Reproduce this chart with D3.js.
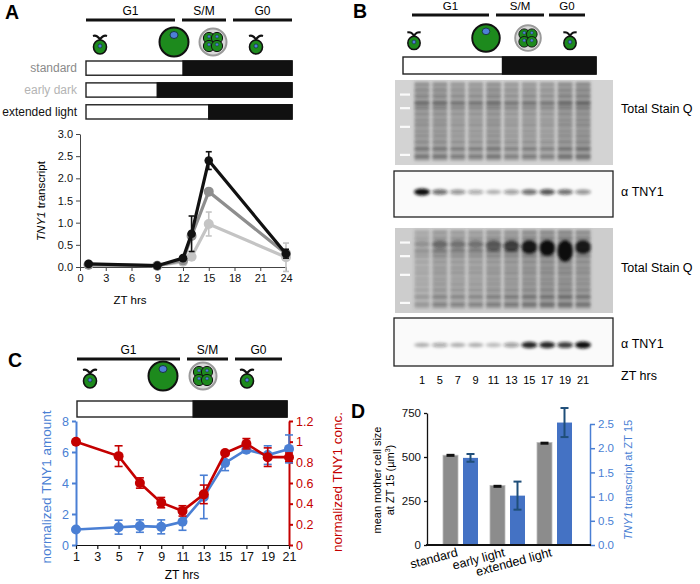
<!DOCTYPE html>
<html>
<head>
<meta charset="utf-8">
<script src="https://cdn.jsdelivr.net/npm/d3@7"></script>
<style>
  body { margin: 0; background: #fff; }
  svg { font-family: "Liberation Sans", Arial, sans-serif; }
  .tick text { font-family: "Liberation Sans", Arial, sans-serif; }
</style>
</head>
<body>
<svg id="fig" width="700" height="584"></svg>
<script>
// ---------- data ----------
const phaseNames = ["G1", "S/M", "G0"];

// panel A: TNY1 transcript over ZT for the three light regimes
const regimes = ["standard", "early dark", "extended light"];
const regimeDarkAt = [12, 9, 15];
const ztA = [1, 9, 12, 13, 15, 24];
const standardA = [0.05, 0.03, 0.15, 0.70, 1.70, 0.30];
const standardErrA = [0.01, 0.01, 0.03, 0.05, 0.05, 0.05];
const earlyDarkA = [0.05, 0.03, 0.12, 0.23, 0.97, 0.22];
const earlyDarkErrA = [0.01, 0.01, 0.03, 0.05, 0.27, 0.32];
const extendedA = [0.07, 0.03, 0.20, 0.75, 2.40, 0.30];
const extendedErrA = [0.01, 0.01, 0.03, 0.40, 0.20, 0.10];
const yTicksA = [0, 0.5, 1, 1.5, 2, 2.5, 3];
const xTicksA = [0, 3, 6, 9, 12, 15, 18, 21, 24];

// panel B: blot lanes
const laneZT = [1, 5, 7, 9, 11, 13, 15, 17, 19, 21];
const stain1Lanes = [1.0, 1.0, 0.9, 0.9, 1.0, 0.85, 0.9, 0.85, 1.05, 1.1];
const tny1TopBands = [1.0, 0.6, 0.45, 0.35, 0.3, 0.4, 0.6, 0.7, 0.6, 0.45];
const stain2Lanes = [0.55, 0.8, 0.75, 0.75, 0.85, 0.9, 1.0, 1.05, 1.1, 1.0];
const stain2Blobs = [0.1, 0.3, 0.25, 0.25, 0.45, 0.6, 0.9, 1.0, 1.0, 0.9];
const stain2BlobH = [4, 5, 5, 5, 7, 8, 10, 12, 18, 10];
const tny1BottomBands = [0.3, 0.35, 0.3, 0.3, 0.25, 0.4, 0.9, 0.9, 0.8, 1.0];
const stainRows = [[0.05, 0.35], [0.12, 0.45], [0.19, 0.55], [0.27, 1.0], [0.33, 0.6], [0.4, 0.4],
                   [0.47, 0.35], [0.53, 0.4], [0.6, 0.3], [0.66, 0.35], [0.73, 0.45],
                   [0.81, 0.8], [0.9, 0.85]];
const markerRows = [0.17, 0.33, 0.55, 0.88];

// panel C: TNY1 amount and concentration
const ztC = [1, 5, 7, 9, 11, 13, 15, 17, 19, 21];
const amountC = [1.0, 1.15, 1.22, 1.17, 1.5, 3.1, 5.3, 6.15, 5.8, 6.2];
const amountErrC = [0, 0.45, 0.4, 0.45, 0.55, 1.4, 0.5, 0.15, 0.6, 0.9];
const concC = [1.0, 0.86, 0.6, 0.41, 0.33, 0.49, 0.89, 0.98, 0.85, 0.85];
const concErrC = [0, 0.1, 0.05, 0.05, 0.05, 0.09, 0.02, 0.05, 0.09, 0.04];
const xTicksC = [1, 3, 5, 7, 9, 11, 13, 15, 17, 19, 21];
const yTicksCL = [0, 2, 4, 6, 8];
const yTicksCR = [0, 0.2, 0.4, 0.6, 0.8, 1, 1.2];
const darkAtC = 12;

// panel D: cell size and transcript at ZT 15
const groupsD = ["standard", "early light", "extended light"];
const sizeD = [510, 338, 582];
const sizeErrD = [8, 4, 5];
const transcriptD = [1.8, 1.02, 2.53];
const transcriptErrD = [0.08, 0.29, 0.3];
const yTicksDL = [0, 250, 500, 750];
const yTicksDR = [0, 0.5, 1, 1.5, 2, 2.5];

// ---------- helpers ----------
const svg = d3.select("#fig");
const green = "#1d8a1d", nucBlue = "#4d7fd6";
const blue = "#4a7fd4", red = "#c40000";

const defs = svg.append("defs");
defs.append("filter").attr("id", "blur").attr("x", "-20%").attr("y", "-50%")
  .attr("width", "140%").attr("height", "200%")
  .append("feGaussianBlur").attr("stdDeviation", 1.5);
defs.append("filter").attr("id", "blur2").attr("x", "-20%").attr("y", "-50%")
  .attr("width", "140%").attr("height", "200%")
  .append("feGaussianBlur").attr("stdDeviation", 0.7);

function panelLabel(x, y, t) {
  svg.append("text").attr("x", x).attr("y", y).attr("font-size", 19.5)
    .attr("font-weight", "bold").text(t);
}

function smallCell(g, cx, cy, s) {
  const c = g.append("g").attr("transform", `translate(${cx},${cy}) scale(${s})`);
  c.append("path").attr("d", "M0,-6 C-1,-9 -4,-11 -7,-10 M0,-6 C1,-9 4,-11 7,-10")
    .attr("fill", "none").attr("stroke", "#111").attr("stroke-width", 2.2);
  c.append("ellipse").attr("rx", 6.5).attr("ry", 7).attr("cy", 1)
    .attr("fill", green).attr("stroke", "#111").attr("stroke-width", 1.6);
  c.append("circle").attr("r", 2).attr("cy", 0).attr("fill", nucBlue)
    .attr("stroke", "#123").attr("stroke-width", 0.6);
}

function bigCell(g, cx, cy, s) {
  const c = g.append("g").attr("transform", `translate(${cx},${cy}) scale(${s})`);
  c.append("circle").attr("r", 14.5).attr("fill", green).attr("stroke", "#111").attr("stroke-width", 2);
  c.append("ellipse").attr("cy", -7).attr("rx", 4).attr("ry", 3.5).attr("fill", nucBlue)
    .attr("stroke", "#123").attr("stroke-width", 0.8);
}

function dividingCell(g, cx, cy, s) {
  const c = g.append("g").attr("transform", `translate(${cx},${cy}) scale(${s})`);
  c.append("circle").attr("r", 13.5).attr("fill", "#d8d8d8").attr("stroke", "#9a9a9a").attr("stroke-width", 2);
  [[-4, -4], [4, -4], [-4, 4], [4, 4]].forEach(([dx, dy]) => {
    c.append("circle").attr("cx", dx).attr("cy", dy).attr("r", 5.6)
      .attr("fill", green).attr("stroke", "#111").attr("stroke-width", 1);
    c.append("circle").attr("cx", dx).attr("cy", dy - 1.5).attr("r", 1.6)
      .attr("fill", nucBlue).attr("stroke", "#123").attr("stroke-width", 0.4);
  });
}

// phase header: lines + labels + cell icons
function phaseHeader(lay) {
  const g = svg.append("g");
  phaseNames.forEach((p, i) => {
    const [x0, x1] = lay.lines[i];
    g.append("line").attr("x1", x0).attr("x2", x1).attr("y1", lay.lineY).attr("y2", lay.lineY)
      .attr("stroke", "#111").attr("stroke-width", 3);
    g.append("text").attr("x", (x0 + x1) / 2).attr("y", lay.lineY - 5)
      .attr("text-anchor", "middle").attr("font-size", lay.fs).text(p);
  });
  smallCell(g, lay.icons[0], lay.iconY + 4, lay.s);
  bigCell(g, lay.icons[1], lay.iconY, lay.s);
  dividingCell(g, lay.icons[2], lay.iconY, lay.s);
  smallCell(g, lay.icons[3], lay.iconY + 4, lay.s);
}

function lightDark(x0, xDark, x1, y, h) {
  svg.append("rect").attr("x", x0).attr("y", y).attr("width", x1 - x0).attr("height", h)
    .attr("fill", "#fff").attr("stroke", "#222").attr("stroke-width", 1.4);
  svg.append("rect").attr("x", xDark).attr("y", y).attr("width", x1 - xDark).attr("height", h)
    .attr("fill", "#111").attr("stroke", "#111").attr("stroke-width", 1.4);
}

function styleAxis(g, color, width, fs) {
  g.select(".domain").attr("stroke", color).attr("stroke-width", width);
  g.selectAll(".tick line").attr("stroke", color).attr("stroke-width", width);
  g.selectAll(".tick text").attr("fill", color).attr("font-size", fs);
}

// ---------- panel A ----------
panelLabel(5, 19, "A");
phaseHeader({ lines: [[86, 175], [182, 226], [233, 292]], lineY: 20, fs: 12,
  icons: [100, 174, 213, 256], iconY: 42, s: 1 });

const xA = d3.scaleLinear().domain([0, 24]).range([80, 286]);
const yA = d3.scaleLinear().domain([0, 3]).range([267, 134]);
const rowY = d3.scaleBand().domain(regimes).range([61, 119]).paddingInner(0.35);
const regimeLabelColor = ["#8a8a8a", "#b4b4b4", "#111"];
regimes.forEach((r, i) => {
  lightDark(86, xA(regimeDarkAt[i]), 292, rowY(r), rowY.bandwidth());
  svg.append("text").attr("x", 77).attr("y", rowY(r) + rowY.bandwidth() / 2 + 4)
    .attr("text-anchor", "end").attr("font-size", 12).attr("fill", regimeLabelColor[i]).text(r);
});

const axA = svg.append("g").attr("transform", `translate(80,0)`)
  .call(d3.axisLeft(yA).tickValues(yTicksA).tickFormat(d3.format(".1f")).tickSize(4).tickSizeOuter(0));
styleAxis(axA, "#444", 1, 11);
const axAx = svg.append("g").attr("transform", `translate(0,267)`)
  .call(d3.axisBottom(xA).tickValues(xTicksA).tickSize(4).tickSizeOuter(0));
styleAxis(axAx, "#444", 1, 11);
axAx.selectAll(".tick text").attr("fill", "#111");
axA.selectAll(".tick text").attr("fill", "#111");

svg.append("text").attr("x", 130).attr("y", 304).attr("text-anchor", "middle")
  .attr("font-size", 11.5).text("ZT hrs");
svg.append("text").attr("transform", `translate(45,201) rotate(-90)`).attr("text-anchor", "middle")
  .attr("font-size", 11.5)
  .call(t => { t.append("tspan").attr("font-style", "italic").text("TNY1"); t.append("tspan").text(" transcript"); });

const lineA = d3.line().x((d, i) => xA(ztA[i])).y(d => yA(d));
const seriesA = [
  { v: earlyDarkA, e: earlyDarkErrA, c: "#c4c4c4", r: 5 },
  { v: standardA, e: standardErrA, c: "#8e8e8e", r: 5 },
  { v: extendedA, e: extendedErrA, c: "#111", r: 4.3 }
];
seriesA.forEach(s => {
  const g = svg.append("g");
  s.v.forEach((v, i) => {
    if (s.e[i] < 0.06) return;
    const x = xA(ztA[i]);
    g.append("line").attr("x1", x).attr("x2", x).attr("y1", yA(v - s.e[i])).attr("y2", yA(v + s.e[i]))
      .attr("stroke", s.c).attr("stroke-width", 1.6);
    [v - s.e[i], v + s.e[i]].forEach(y => g.append("line").attr("x1", x - 3).attr("x2", x + 3)
      .attr("y1", yA(y)).attr("y2", yA(y)).attr("stroke", s.c).attr("stroke-width", 1.6));
  });
  g.append("path").datum(s.v).attr("d", lineA).attr("fill", "none")
    .attr("stroke", s.c).attr("stroke-width", 3.2);
  g.selectAll("circle").data(s.v).join("circle")
    .attr("cx", (d, i) => xA(ztA[i])).attr("cy", d => yA(d)).attr("r", s.r).attr("fill", s.c);
});

// ---------- panel B ----------
panelLabel(353, 18, "B");
phaseHeader({ lines: [[412, 489], [496, 544], [549, 585]], lineY: 15, fs: 11.5,
  icons: [414, 486, 528, 570], iconY: 38, s: 0.95 });
const xLane = d3.scalePoint().domain(laneZT).range([422, 583]);
lightDark(403, (xLane(11) + xLane(13)) / 2, 596, 57, 17);

function stainBlot(y0, y1, lanes, bg, blobs, blobH, blobY) {
  const h = y1 - y0;
  const g = svg.append("g");
  g.append("rect").attr("x", 395).attr("y", y0).attr("width", 218).attr("height", h).attr("fill", bg);
  markerRows.forEach(r => g.append("rect").attr("x", 400).attr("y", y0 + r * h - 1)
    .attr("width", 10).attr("height", 2.2).attr("fill", "#fafafa").attr("filter", "url(#blur2)"));
  const lg = g.append("g").attr("filter", "url(#blur)");
  laneZT.forEach((z, i) => {
    const x = xLane(z) - 7.5;
    lg.append("rect").attr("x", x).attr("y", y0 + 2).attr("width", 15).attr("height", h - 6)
      .attr("fill", "#555").attr("opacity", 0.35 * lanes[i]);
    stainRows.forEach(([r, s]) => lg.append("rect").attr("x", x).attr("y", y0 + r * h - 2)
      .attr("width", 15).attr("height", 4).attr("fill", "#1a1a1a")
      .attr("opacity", Math.min(1, 0.45 * s * lanes[i])));
    if (blobs) {
      lg.append("ellipse").attr("cx", xLane(z)).attr("cy", y0 + blobY * h + blobH[i] / 2 - 3)
        .attr("rx", 8).attr("ry", blobH[i] / 2 + 2).attr("fill", "#0a0a0a").attr("opacity", blobs[i]);
    }
  });
}

function bandBlot(y0, y1, bandY, bands) {
  const g = svg.append("g");
  g.append("rect").attr("x", 394).attr("y", y0).attr("width", 219).attr("height", y1 - y0)
    .attr("fill", "#fafafa").attr("stroke", "#222").attr("stroke-width", 1.3);
  const bg = g.append("g").attr("filter", "url(#blur)");
  laneZT.forEach((z, i) => {
    bg.append("ellipse").attr("cx", xLane(z)).attr("cy", bandY).attr("rx", 8)
      .attr("ry", 1.8 + 1.6 * bands[i]).attr("fill", "#111").attr("opacity", Math.min(1, bands[i]));
  });
}

stainBlot(80, 165, stain1Lanes, "#d3d3d3");
bandBlot(171, 217, 192, tny1TopBands);
stainBlot(228, 313, stain2Lanes, "#cdcdcd", stain2Blobs, stain2BlobH, 0.2);
bandBlot(318, 366, 345, tny1BottomBands);

[[113, "Total Stain Q"], [196, "α TNY1"], [272, "Total Stain Q"], [348, "α TNY1"], [380, "ZT hrs"]]
  .forEach(([y, t]) => svg.append("text").attr("x", 621).attr("y", y).attr("font-size", 12.5).text(t));
svg.append("g").selectAll("text").data(laneZT).join("text")
  .attr("x", d => xLane(d)).attr("y", 384).attr("text-anchor", "middle").attr("font-size", 11).text(d => d);

// ---------- panel C ----------
panelLabel(8, 367, "C");
phaseHeader({ lines: [[77, 180], [187, 228], [235, 282]], lineY: 359, fs: 12,
  icons: [90, 163, 203, 247], iconY: 376, s: 1 });
const xC = d3.scaleLinear().domain([1, 21]).range([76, 289]);
const yCL = d3.scaleLinear().domain([0, 8]).range([545, 421]);
const yCR = d3.scaleLinear().domain([0, 1.2]).range([545, 421]);
lightDark(77, xC(darkAtC), 287, 401, 16);

const axCx = svg.append("g").attr("transform", "translate(0,545)")
  .call(d3.axisBottom(xC).tickValues(xTicksC).tickSize(4).tickSizeOuter(0));
styleAxis(axCx, "#111", 1.2, 12.5);
const axCL = svg.append("g").attr("transform", "translate(76,0)")
  .call(d3.axisLeft(yCL).tickValues(yTicksCL).tickSize(4).tickSizeOuter(0));
styleAxis(axCL, blue, 2, 12.5);
const axCR = svg.append("g").attr("transform", "translate(289,0)")
  .call(d3.axisRight(yCR).tickValues(yTicksCR).tickFormat(d => d3.format("")(+d.toFixed(1))).tickSize(4).tickSizeOuter(0));
styleAxis(axCR, red, 2, 12.5);

svg.append("text").attr("x", 182).attr("y", 579).attr("text-anchor", "middle").attr("font-size", 12).text("ZT hrs");
svg.append("text").attr("transform", "translate(51,487) rotate(-90)").attr("text-anchor", "middle")
  .attr("font-size", 13.5).attr("fill", blue).text("normalized TNY1 amount");
svg.append("text").attr("transform", "translate(342,482) rotate(-90)").attr("text-anchor", "middle")
  .attr("font-size", 13.5).attr("fill", red).text("normalized TNY1 conc.");

function seriesC(vals, errs, y, color) {
  const g = svg.append("g");
  vals.forEach((v, i) => {
    if (!errs[i]) return;
    const x = xC(ztC[i]);
    g.append("line").attr("x1", x).attr("x2", x).attr("y1", y(v - errs[i])).attr("y2", y(v + errs[i]))
      .attr("stroke", color).attr("stroke-width", 1.6);
    [v - errs[i], v + errs[i]].forEach(e => g.append("line").attr("x1", x - 4).attr("x2", x + 4)
      .attr("y1", y(e)).attr("y2", y(e)).attr("stroke", color).attr("stroke-width", 1.6));
  });
  g.append("path").datum(vals).attr("d", d3.line().x((d, i) => xC(ztC[i])).y(d => y(d)))
    .attr("fill", "none").attr("stroke", color).attr("stroke-width", 2.6);
  g.selectAll("circle").data(vals).join("circle")
    .attr("cx", (d, i) => xC(ztC[i])).attr("cy", d => y(d)).attr("r", 5).attr("fill", color);
}
seriesC(amountC, amountErrC, yCL, blue);
seriesC(concC, concErrC, yCR, red);

// ---------- panel D ----------
panelLabel(351, 418, "D");
const x0D = d3.scaleBand().domain(groupsD).range([437, 578]);
const x1D = d3.scaleBand().domain(["size", "transcript"]).range([6, 41]).paddingInner(0.25);
const yDL = d3.scaleLinear().domain([0, 750]).range([545, 413]);
const yDR = d3.scaleLinear().domain([0, 2.5]).range([545, 424]);
const grayBar = "#8c8c8c", blueBar = "#4472c4";

const gD = svg.append("g");
groupsD.forEach((grp, i) => {
  const xs = x0D(grp) + x1D("size"), xt = x0D(grp) + x1D("transcript"), w = x1D.bandwidth();
  gD.append("rect").attr("x", xs).attr("y", yDL(sizeD[i])).attr("width", w)
    .attr("height", yDL(0) - yDL(sizeD[i])).attr("fill", grayBar).attr("stroke", "#bbb").attr("stroke-width", 0.8);
  gD.append("rect").attr("x", xt).attr("y", yDR(transcriptD[i])).attr("width", w)
    .attr("height", yDR(0) - yDR(transcriptD[i])).attr("fill", blueBar);
  // size error (short black)
  gD.append("rect").attr("x", xs + w / 2 - 4).attr("y", yDL(sizeD[i] + sizeErrD[i]))
    .attr("width", 8).attr("height", Math.max(3, yDL(sizeD[i] - sizeErrD[i]) - yDL(sizeD[i] + sizeErrD[i])))
    .attr("fill", "#111");
  // transcript error
  const cx = xt + w / 2, lo = yDR(transcriptD[i] - transcriptErrD[i]), hi = yDR(transcriptD[i] + transcriptErrD[i]);
  gD.append("line").attr("x1", cx).attr("x2", cx).attr("y1", lo).attr("y2", hi).attr("stroke", "#1f4e79").attr("stroke-width", 2);
  [lo, hi].forEach(y => gD.append("line").attr("x1", cx - 4).attr("x2", cx + 4).attr("y1", y).attr("y2", y)
    .attr("stroke", "#1f4e79").attr("stroke-width", 2));
});

const axDL = svg.append("g").attr("transform", "translate(427,0)")
  .call(d3.axisLeft(yDL).tickValues(yTicksDL).tickSize(3).tickSizeOuter(0));
styleAxis(axDL, "#111", 1.3, 11.5);
const axDR = svg.append("g").attr("transform", "translate(590,0)")
  .call(d3.axisRight(yDR).tickValues(yTicksDR).tickFormat(d3.format(".1f")).tickSize(5).tickSizeOuter(0));
styleAxis(axDR, blue, 1.5, 11.5);
svg.append("line").attr("x1", 426).attr("x2", 591).attr("y1", 545).attr("y2", 545)
  .attr("stroke", "#111").attr("stroke-width", 2);

groupsD.forEach(grp => {
  const cx = x0D(grp) + x0D.bandwidth() / 2;
  svg.append("text").attr("transform", `translate(${cx - 2},${556}) rotate(-15)`)
    .attr("text-anchor", "end").attr("font-size", 12.5).text(grp);
});

svg.append("text").attr("transform", "translate(381,480) rotate(-90)").attr("text-anchor", "middle")
  .attr("font-size", 11).text("mean mother cell size");
svg.append("text").attr("transform", "translate(394,480) rotate(-90)").attr("text-anchor", "middle")
  .attr("font-size", 11)
  .call(t => { t.append("tspan").text("at ZT 15 (µm"); t.append("tspan").attr("font-size", 7).attr("dy", -4).text("3");
               t.append("tspan").attr("dy", 4).text(")"); });
svg.append("text").attr("transform", "translate(632,480) rotate(-90)").attr("text-anchor", "middle")
  .attr("font-size", 11).attr("fill", blue)
  .call(t => { t.append("tspan").attr("font-style", "italic").text("TNY1"); t.append("tspan").text(" transcript at ZT 15"); });
</script>
</body>
</html>
